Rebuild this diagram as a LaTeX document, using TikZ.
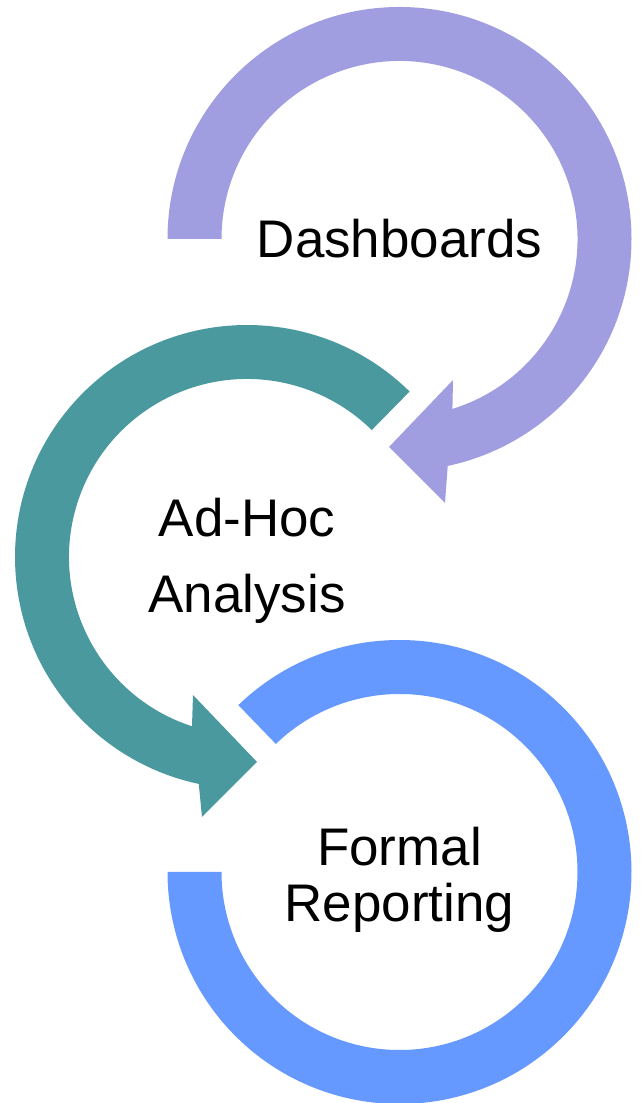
\documentclass[tikz,border=0pt]{standalone}
\usepackage{fontspec}
\setmainfont{Liberation Sans}
\usetikzlibrary{calc}

\definecolor{dashpurple}{RGB}{160,158,224}
\definecolor{adhocteal}{RGB}{74,153,159}
\definecolor{reportblue}{RGB}{102,153,255}

\tikzset{
  cyclelabel/.style={align=center, inner sep=0pt, font=\fontsize{39.7}{#1}\selectfont},
  cyclelabel/.default=57,
}

\begin{document}
\begin{tikzpicture}[x=0.75pt,y=0.75pt]
    \useasboundingbox (0,0) rectangle (641,1103);

    \coordinate (dashc)   at (399.5,864);
    \coordinate (adhocc)  at (247,546);
    \coordinate (reportc) at (399.5,231);

    % top ring, clockwise from the left, head at the bottom
    \fill[dashpurple] ($(dashc)+(180:232)$) arc[start angle=180, end angle=-78, radius=232]
        -- (445,600) -- (389,656) -- (453,723) -- ($(dashc)+(-72.7:178)$)
        arc[start angle=-72.7, end angle=180, radius=178] -- cycle;

    % middle ring, anticlockwise from the upper right
    \fill[adhocteal] ($(adhocc)+(45.5:232)$) arc[start angle=45.5, end angle=258, radius=232]
        -- (202,286) -- (257,341) -- (193,408) -- ($(adhocc)+(252:178)$)
        arc[start angle=252, end angle=45.5, radius=178] -- cycle;

    % bottom ring, no head
    \fill[reportblue] ($(reportc)+(134:232)$) arc[start angle=134, end angle=-180, radius=232]
        -- ($(reportc)+(180:178)$) arc[start angle=-180, end angle=134, radius=178] -- cycle;

    \node[cyclelabel] (dash)   at (dashc)             {Dashboards};
    \node[cyclelabel] (adhoc)  at ($(adhocc)+(0,-4)$) {Ad-Hoc\\Analysis};
    \node[cyclelabel=42] (report) at ($(reportc)+(0,-8)$) {Formal\\Reporting};
\end{tikzpicture}
\end{document}
